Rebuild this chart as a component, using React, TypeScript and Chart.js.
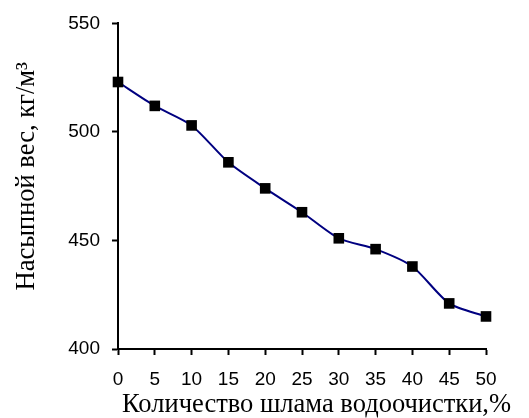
import React, { useEffect, useRef } from "react";
import { Chart, registerables } from "chart.js";

Chart.register(...registerables);

const xValues: number[] = [0, 5, 10, 15, 20, 25, 30, 35, 40, 45, 50];
const bulkDensity: number[] = [523, 512, 503, 486, 474, 463, 451, 446, 438, 421, 415];
const yTicks: number[] = [400, 450, 500, 550];
const xTitle = "Количество шлама водоочистки,%";
const yTitle = "   Насыпной вес, кг/м³";

const xTitlePlugin = {
  id: "xTitleFree",
  afterDraw(chart: any) {
    const { ctx, chartArea } = chart;
    ctx.save();
    ctx.font = '26.5px "Liberation Serif", "Times New Roman", serif';
    ctx.fillStyle = "#000";
    ctx.textAlign = "left";
    ctx.textBaseline = "alphabetic";
    ctx.fillText(xTitle, chartArea.left + 4, chartArea.bottom + 63);
    ctx.restore();
  },
};

export default function App() {
  const ref = useRef<HTMLCanvasElement | null>(null);

  useEffect(() => {
    if (!ref.current) return;
    const chart = new Chart(ref.current, {
      type: "line",
      data: {
        datasets: [
          {
            data: xValues.map((x, i) => ({ x, y: bulkDensity[i] })),
            borderColor: "#000080",
            borderWidth: 2,
            backgroundColor: "#000000",
            pointBackgroundColor: "#000000",
            pointBorderColor: "#000000",
            pointStyle: "rect",
            pointRadius: 7.5,
            pointBorderWidth: 0,
            tension: 0.25,
            fill: false,
            clip: false,
          },
        ],
      },
      plugins: [xTitlePlugin],
      options: {
        animation: false,
        responsive: true,
        maintainAspectRatio: false,
        layout: { padding: { left: 0, top: 22, right: 43, bottom: 0 } },
        plugins: { legend: { display: false }, tooltip: { enabled: false } },
        scales: {
          x: {
            type: "linear",
            min: 0,
            max: 50,
            afterFit: (s: any) => { s.height = 69; },
            afterBuildTicks: (s: any) => { s.ticks = xValues.map((v) => ({ value: v })); },
            border: { color: "#000", width: 2 },
            grid: { drawOnChartArea: false, drawTicks: true, tickLength: 6, tickColor: "#000", tickWidth: 2 },
            ticks: {
              color: "#000",
              font: { family: "Liberation Sans, Arial", size: 19 },
              padding: 13,
              maxRotation: 0,
              autoSkip: false,
            },
            title: { display: false },
          },
          y: {
            type: "linear",
            min: 400,
            max: 550,
            afterFit: (s: any) => { s.width = 118; },
            afterBuildTicks: (s: any) => { s.ticks = yTicks.map((v) => ({ value: v })); },
            border: { color: "#000", width: 2 },
            grid: { drawOnChartArea: false, drawTicks: true, tickLength: 6, tickColor: "#000", tickWidth: 2 },
            ticks: {
              color: "#000",
              font: { family: "Liberation Sans, Arial", size: 19 },
              padding: 12,
            },
            title: {
              display: true,
              text: yTitle,
              color: "#000",
              font: { family: "Liberation Serif, Times New Roman", size: 26.5, lineHeight: 1 },
              padding: { top: 14, bottom: 14 },
            },
          },
        },
      },
    });
    return () => chart.destroy();
  }, []);

  return (
    <div style={{ position: "fixed", left: 0, top: 0, width: 529, height: 418, background: "#fff" }}>
      <canvas ref={ref} />
    </div>
  );
}
